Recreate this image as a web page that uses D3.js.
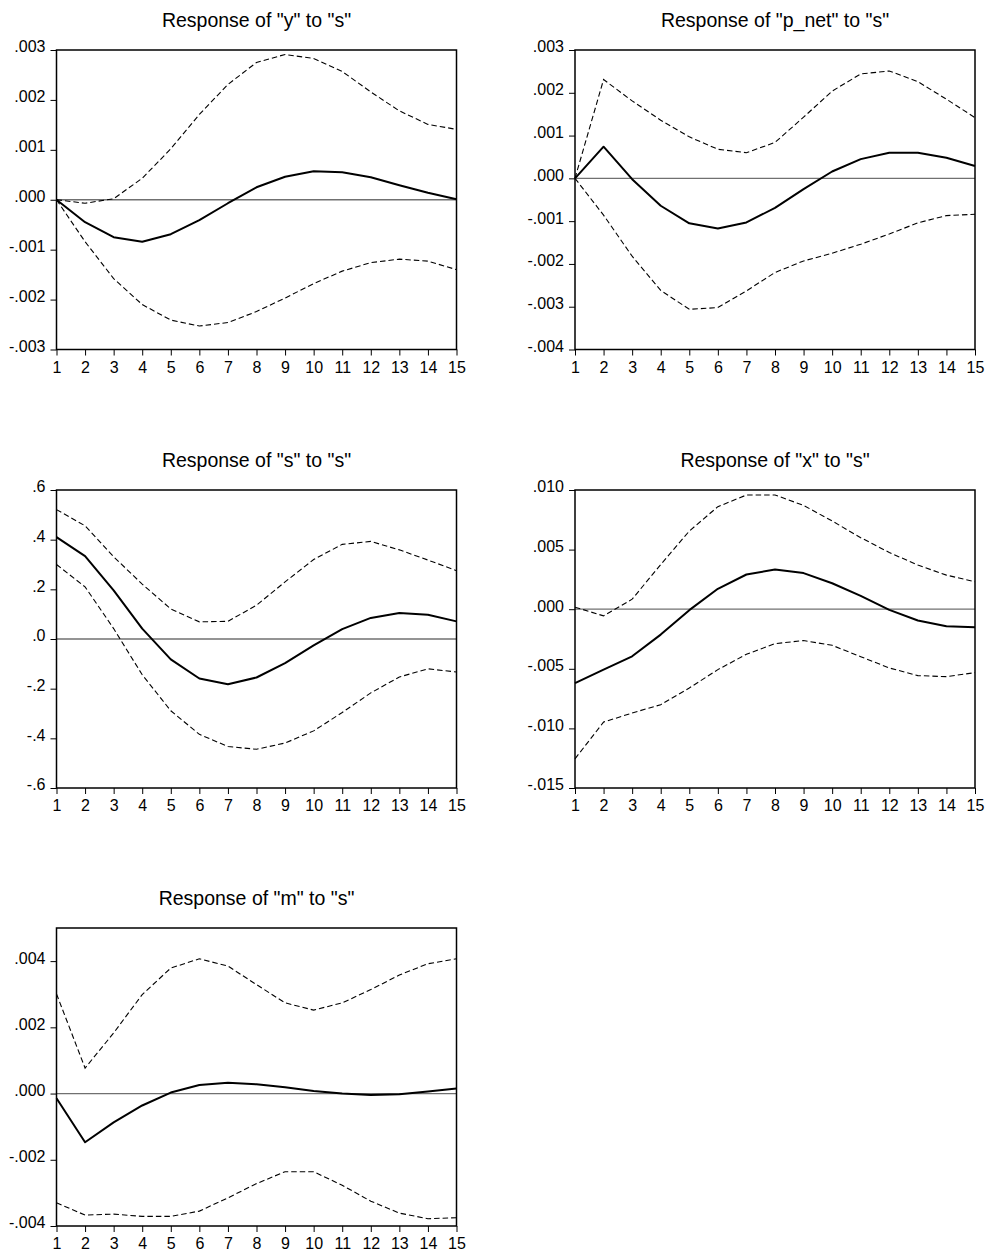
<!DOCTYPE html>
<html>
<head>
<meta charset="utf-8">
<script src="https://cdn.jsdelivr.net/npm/d3@7"></script>
<style>
  html, body { margin: 0; padding: 0; background: #fff; }
  svg { display: block; }
  text { font-family: "Liberation Sans", Arial, sans-serif; fill: #000; }
</style>
</head>
<body>
<svg id="chart" width="987" height="1252"></svg>
<script>
// Impulse responses to a shock in "s", periods 1..15, with +/- 2 S.E. bands
const periods = d3.range(1, 16);

const yResp  = [0, -0.00045, -0.00075, -0.00084, -0.00069, -0.00041, -0.00007, 0.00025, 0.00046, 0.00057, 0.00055, 0.00045, 0.00029, 0.00014, 0.00001];
const yUpper = [0, -0.00007, 0.00002, 0.00043, 0.00102, 0.00171, 0.00231, 0.00275, 0.00291, 0.00283, 0.00257, 0.00216, 0.00178, 0.00151, 0.00141];
const yLower = [0, -0.00084, -0.00158, -0.00210, -0.00241, -0.00253, -0.00246, -0.00224, -0.00197, -0.00168, -0.00143, -0.00126, -0.00119, -0.00123, -0.00140];

const pResp  = [0, 0.00074, -0.00002, -0.00064, -0.00105, -0.00117, -0.00103, -0.00069, -0.00025, 0.00016, 0.00045, 0.00060, 0.00060, 0.00048, 0.00029];
const pUpper = [0, 0.00231, 0.00181, 0.00136, 0.00097, 0.00068, 0.00060, 0.00084, 0.00143, 0.00204, 0.00244, 0.00251, 0.00226, 0.00185, 0.00142];
const pLower = [0, -0.00086, -0.00182, -0.00262, -0.00306, -0.00302, -0.00263, -0.00220, -0.00193, -0.00175, -0.00154, -0.00130, -0.00104, -0.00087, -0.00084];

const sResp  = [0.410, 0.334, 0.196, 0.042, -0.082, -0.159, -0.182, -0.155, -0.097, -0.026, 0.040, 0.085, 0.105, 0.098, 0.071];
const sUpper = [0.521, 0.456, 0.331, 0.221, 0.121, 0.069, 0.071, 0.136, 0.230, 0.320, 0.381, 0.393, 0.359, 0.318, 0.275];
const sLower = [0.300, 0.210, 0.042, -0.144, -0.289, -0.384, -0.433, -0.444, -0.419, -0.370, -0.296, -0.217, -0.153, -0.120, -0.133];

const xResp  = [-0.00620, -0.00507, -0.00395, -0.00213, -0.00008, 0.00171, 0.00291, 0.00333, 0.00303, 0.00218, 0.00112, -0.00006, -0.00095, -0.00143, -0.00151];
const xUpper = [0.00017, -0.00056, 0.00084, 0.00375, 0.00655, 0.00860, 0.00958, 0.00958, 0.00871, 0.00740, 0.00600, 0.00476, 0.00370, 0.00286, 0.00230];
const xLower = [-0.01255, -0.00947, -0.00871, -0.00801, -0.00661, -0.00507, -0.00378, -0.00289, -0.00263, -0.00303, -0.00398, -0.00493, -0.00557, -0.00566, -0.00532];

const mResp  = [-0.00014, -0.00147, -0.00087, -0.00036, 0.00003, 0.00026, 0.00033, 0.00028, 0.00019, 0.00008, 0.00000, -0.00004, -0.00002, 0.00006, 0.00015];
const mUpper = [0.00301, 0.00077, 0.00183, 0.00299, 0.00379, 0.00407, 0.00385, 0.00329, 0.00274, 0.00252, 0.00274, 0.00314, 0.00358, 0.00392, 0.00407];
const mLower = [-0.00330, -0.00367, -0.00364, -0.00371, -0.00371, -0.00355, -0.00315, -0.00272, -0.00236, -0.00236, -0.00277, -0.00325, -0.00361, -0.00378, -0.00375];

// Y-axis tick values and their labels
const yTicks  = [-0.003, -0.002, -0.001, 0, 0.001, 0.002, 0.003];
const yLabels = ["-.003", "-.002", "-.001", ".000", ".001", ".002", ".003"];
const pTicks  = [-0.004, -0.003, -0.002, -0.001, 0, 0.001, 0.002, 0.003];
const pLabels = ["-.004", "-.003", "-.002", "-.001", ".000", ".001", ".002", ".003"];
const sTicks  = [-0.6, -0.4, -0.2, 0, 0.2, 0.4, 0.6];
const sLabels = ["-.6", "-.4", "-.2", ".0", ".2", ".4", ".6"];
const xTicks  = [-0.015, -0.010, -0.005, 0, 0.005, 0.010];
const xLabels = ["-.015", "-.010", "-.005", ".000", ".005", ".010"];
const mTicks  = [-0.004, -0.002, 0, 0.002, 0.004];
const mLabels = ["-.004", "-.002", ".000", ".002", ".004"];

const periodLabels = periods.map(String);

const panels = [
  { title: 'Response of "y" to "s"',     resp: yResp, upper: yUpper, lower: yLower, domain: [-0.003, 0.003], ticks: yTicks, labels: yLabels, col: 0, row: 0 },
  { title: 'Response of "p_net" to "s"', resp: pResp, upper: pUpper, lower: pLower, domain: [-0.004, 0.003], ticks: pTicks, labels: pLabels, col: 1, row: 0 },
  { title: 'Response of "s" to "s"',     resp: sResp, upper: sUpper, lower: sLower, domain: [-0.6, 0.6],     ticks: sTicks, labels: sLabels, col: 0, row: 1 },
  { title: 'Response of "x" to "s"',     resp: xResp, upper: xUpper, lower: xLower, domain: [-0.015, 0.010], ticks: xTicks, labels: xLabels, col: 1, row: 1 },
  { title: 'Response of "m" to "s"',     resp: mResp, upper: mUpper, lower: mLower, domain: [-0.004, 0.005], ticks: mTicks, labels: mLabels, col: 0, row: 2 }
];

// Panel frame geometry
const colX = [[56.5, 456.5], [575, 975]];
const rowY = [[349.5, 50], [788, 490], [1226, 928]];

const svg = d3.select("#chart");

panels.forEach(p => {
  const [x0, x1] = colX[p.col];
  const [yb, yt] = rowY[p.row];
  const x = d3.scaleLinear().domain([1, 15]).range([x0, x1]);
  const y = d3.scaleLinear().domain(p.domain).range([yb, yt]);
  const g = svg.append("g");

  // title
  g.append("text")
    .attr("x", (x0 + x1) / 2)
    .attr("y", yt - 23)
    .attr("text-anchor", "middle")
    .style("font-size", "19.5px")
    .text(p.title);

  // zero reference line
  g.append("line")
    .attr("x1", x0).attr("x2", x1)
    .attr("y1", y(0)).attr("y2", y(0))
    .attr("stroke", "#707070")
    .attr("stroke-width", 1.3);

  const line = d3.line().x((d, i) => x(periods[i])).y(d => y(d));

  // confidence bands
  [p.upper, p.lower].forEach(band => {
    g.append("path")
      .attr("d", line(band))
      .attr("fill", "none")
      .attr("stroke", "#000")
      .attr("stroke-width", 1.1)
      .attr("stroke-dasharray", "5.5,3");
  });

  // response
  g.append("path")
    .attr("d", line(p.resp))
    .attr("fill", "none")
    .attr("stroke", "#000")
    .attr("stroke-width", 2)
    .attr("stroke-linejoin", "round");

  // left axis
  const ay = d3.axisLeft(y)
    .tickValues(p.ticks)
    .tickFormat((d, i) => p.labels[i])
    .tickSize(6)
    .tickSizeOuter(0)
    .tickPadding(5);
  const gy = g.append("g").attr("transform", `translate(${x0},0)`).call(ay);
  gy.select(".domain").remove();
  gy.selectAll("line").attr("stroke", "#000").attr("stroke-width", 1);
  gy.selectAll("text")
    .style("font-size", "16px")
    .attr("dy", "0.12em");

  // bottom axis
  const ax = d3.axisBottom(x)
    .tickValues(periods)
    .tickFormat((d, i) => periodLabels[i])
    .tickSize(6)
    .tickSizeOuter(0)
    .tickPadding(5);
  const gx = g.append("g").attr("transform", `translate(0,${yb})`).call(ax);
  gx.select(".domain").remove();
  gx.selectAll("line").attr("stroke", "#000").attr("stroke-width", 1);
  gx.selectAll("text").style("font-size", "16px").attr("dy", "0.78em");

  // frame
  g.append("rect")
    .attr("x", x0).attr("y", yt)
    .attr("width", x1 - x0).attr("height", yb - yt)
    .attr("fill", "none")
    .attr("stroke", "#000")
    .attr("stroke-width", 1.5);
});
</script>
</body>
</html>
